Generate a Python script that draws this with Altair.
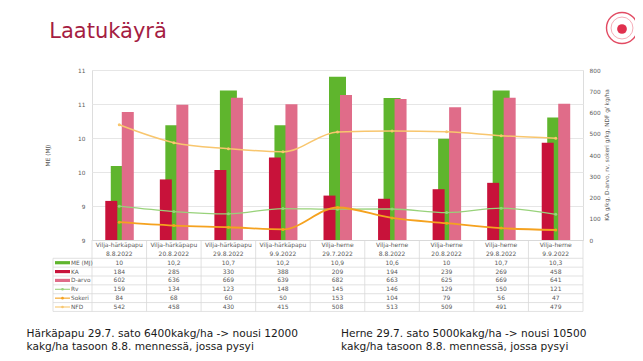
import altair as alt
import pandas as pd

# ---------------- data ----------------
keys = [f"c{i}" for i in range(9)]
crops = ["Vilja-härkäpapu"] * 4 + ["Vilja-herne"] * 5
dates = ["8.8.2022", "20.8.2022", "29.8.2022", "9.9.2022", "29.7.2022",
         "8.8.2022", "20.8.2022", "29.8.2022", "9.9.2022"]
me_bar = [9.87, 10.35, 10.76, 10.35, 10.92, 10.67, 10.19, 10.76, 10.44]
me_label = ["10", "10,2", "10,7", "10,2", "10,9", "10,6", "10", "10,7", "10,3"]
ka = [184, 285, 330, 388, 209, 194, 239, 269, 458]
darvo = [602, 636, 669, 639, 682, 663, 625, 669, 641]
rv = [159, 134, 123, 148, 145, 146, 129, 150, 121]
sokeri = [84, 68, 60, 50, 153, 104, 79, 56, 47]
ndf = [542, 458, 430, 415, 508, 513, 509, 491, 479]

series_names = ["ME (MJ)", "KA", "D-arvo", "Rv", "Sokeri", "NFD"]
series_colors = ["#5FB52D", "#C8123A", "#E06C89", "#98D27A", "#F5A21F", "#F8C66E"]
series_kind = ["bar", "bar", "bar", "line", "line", "line"]

left_ticks = [9, 9.4, 9.8, 10.2, 10.6, 11]
right_ticks = [0, 100, 200, 300, 400, 500, 600, 700, 800]

title_text = "Laatukäyrä"
note_left = "Härkäpapu 29.7. sato 6400kakg/ha -> nousi 12000\nkakg/ha tasoon 8.8. mennessä, jossa pysyi"
note_right = "Herne 29.7. sato 5000kakg/ha -> nousi 10500\nkakg/ha tasoon 8.8. mennessä, jossa pysyi"
right_title = "KA g/kg, D-arvo, rv, sokeri g/kg, NDF g/ kg/ha"

FONT = "DejaVu Sans"
GREY = "#595959"
LINEC = "#D9D9D9"

df = pd.DataFrame({"key": keys, "me": me_bar, "ka": ka, "darvo": darvo,
                   "rv": rv, "sokeri": sokeri, "ndf": ndf})

table_rows = [crops, dates, me_label, [str(v) for v in ka], [str(v) for v in darvo],
              [str(v) for v in rv], [str(v) for v in sokeri], [str(v) for v in ndf]]
trecs = []
for r, vals in enumerate(table_rows):
    for k, v in zip(keys, vals):
        trecs.append({"key": k, "row": r, "txt": v})
tdf = pd.DataFrame(trecs)

legdf = pd.DataFrame({"name": series_names, "row": list(range(2, 8)), "kind": series_kind})
bounds = pd.DataFrame({"b": [1.5 + i for i in range(7)]})
keydf = pd.DataFrame({"key": keys})

XS = alt.Scale(domain=keys, paddingInner=0, paddingOuter=0)
XAX = alt.Axis(labels=False, ticks=False, title=None, grid=False, domainColor=LINEC)


def X(**kw):
    return alt.X("key:N", scale=XS, axis=XAX, **kw)


def RYS():
    return alt.Scale(domain=[0, 800], nice=False, zero=True)


# ---------------- main plot ----------------
me_layer = alt.Chart(df).mark_bar(width=17, color=series_colors[0]).encode(
    x=X(),
    y=alt.Y("me:Q", scale=alt.Scale(domain=[9, 11], zero=False, nice=False),
            axis=alt.Axis(orient="left", values=left_ticks, format=".0f", title="ME (MJ)",
                          grid=True, gridColor="#E6E6E6", ticks=False, domain=False,
                          labelFontSize=5.8, labelColor=GREY, labelPadding=7, labelFont=FONT,
                          titleFont=FONT, titleFontSize=5.8, titleFontWeight="normal",
                          titleColor=GREY, titlePadding=27)),
    y2=alt.Y2Datum(9),
)

ka_layer = alt.Chart(df).mark_bar(width=12, xOffset=-8, color=series_colors[1]).encode(
    x=X(),
    y=alt.Y("ka:Q", scale=RYS(),
            axis=alt.Axis(orient="right", values=right_ticks, title=None, grid=False,
                          ticks=False, domain=False, labelFontSize=5.8, labelColor=GREY,
                          labelPadding=6, labelFont=FONT)),
    y2=alt.Y2Datum(0),
)
darvo_layer = alt.Chart(df).mark_bar(width=12, xOffset=8.5, color=series_colors[2]).encode(
    x=X(), y=alt.Y("darvo:Q", scale=RYS(), axis=None), y2=alt.Y2Datum(0))


def line_layer(field, color, sw):
    return alt.Chart(df).mark_line(
        interpolate="monotone", color=color, strokeWidth=sw,
        point=alt.OverlayMarkDef(filled=True, size=9, color=color)
    ).encode(x=X(), y=alt.Y(f"{field}:Q", scale=RYS(), axis=None))


lines = [line_layer("rv", series_colors[3], 1.3),
         line_layer("sokeri", series_colors[4], 1.8),
         line_layer("ndf", series_colors[5], 1.5)]

# ---------------- data table ----------------
TY = alt.Scale(domain=[0, 7], range=[175, 237], nice=False, zero=False)

cell_text = alt.Chart(tdf).mark_text(font=FONT, fontSize=6, color=GREY).encode(
    x=X(), y=alt.Y("row:Q", scale=TY, axis=None), text="txt:N")

hlines = alt.Chart(bounds).mark_rule(color=LINEC, strokeWidth=0.8).encode(
    x=alt.value(-39), x2=alt.value(491), y=alt.Y("b:Q", scale=TY, axis=None))

vlines = alt.Chart(keydf).mark_rule(color=LINEC, strokeWidth=0.8).encode(
    x=X(bandPosition=0), y=alt.value(170), y2=alt.value(241.4))
vlast = alt.Chart(keydf).transform_filter(alt.datum.key == keys[-1]).mark_rule(
    color=LINEC, strokeWidth=0.8).encode(
    x=X(bandPosition=1), y=alt.value(170), y2=alt.value(241.4))
vleft = alt.Chart(keydf).transform_filter(alt.datum.key == keys[0]).mark_rule(
    color=LINEC, strokeWidth=0.8).encode(
    x=alt.value(-39), y=alt.YDatum(1.5, scale=TY, axis=None), y2=alt.Y2Datum(7.5))

CS = alt.Scale(domain=series_names, range=series_colors)
sw_bar = alt.Chart(legdf).transform_filter(alt.datum.kind == "bar").mark_rule(strokeWidth=3.2).encode(
    x=alt.value(-37), x2=alt.value(-22), y=alt.Y("row:Q", scale=TY, axis=None),
    color=alt.Color("name:N", scale=CS, legend=None))
sw_line = alt.Chart(legdf).transform_filter(alt.datum.kind == "line").mark_rule(strokeWidth=1.1).encode(
    x=alt.value(-37), x2=alt.value(-22), y=alt.Y("row:Q", scale=TY, axis=None),
    color=alt.Color("name:N", scale=CS, legend=None))
sw_pt = alt.Chart(legdf).transform_filter(alt.datum.kind == "line").mark_point(
    filled=True, size=7, opacity=1).encode(
    x=alt.value(-29.5), y=alt.Y("row:Q", scale=TY, axis=None),
    color=alt.Color("name:N", scale=CS, legend=None))
leg_text = alt.Chart(legdf).mark_text(font=FONT, fontSize=5.8, color=GREY, align="left").encode(
    x=alt.value(-21), y=alt.Y("row:Q", scale=TY, axis=None), text="name:N")

table_group = alt.layer(hlines, vlines, vlast, vleft, cell_text, sw_bar, sw_line, sw_pt, leg_text)

# ---------------- slide decorations ----------------
one = pd.DataFrame({"a": [0]})
rtitle = alt.Chart(one).mark_text(text=right_title, font=FONT, fontSize=5.8, color=GREY,
                                  angle=270, align="center", baseline="middle").encode(
    x=alt.value(515), y=alt.value(85))
title = alt.Chart(one).mark_text(text=title_text, font=FONT, fontSize=21, color="#A51D42",
                                 align="left", baseline="alphabetic").encode(
    x=alt.value(-42.7), y=alt.value(-31.7))
note1 = alt.Chart(one).mark_text(text=note_left, lineBreak="\n", font=FONT, fontSize=10.6,
                                 color="#1A1A1A", align="left", baseline="alphabetic",
                                 lineHeight=13.3).encode(x=alt.value(-65.5), y=alt.value(266.7))
note2 = alt.Chart(one).mark_text(text=note_right, lineBreak="\n", font=FONT, fontSize=10.6,
                                 color="#1A1A1A", align="left", baseline="alphabetic",
                                 lineHeight=13.3).encode(x=alt.value(249), y=alt.value(266.7))
logo_ring = alt.Chart(one).mark_point(shape="circle", size=960, filled=False, stroke="#E24B63",
                                      fill="white", fillOpacity=1,
                                      strokeWidth=1.4, opacity=1).encode(
    x=alt.value(530), y=alt.value(-42))
logo_inner = alt.Chart(one).mark_point(shape="circle", size=480, filled=False, stroke="#F08A9A",
                                       strokeWidth=0.7, opacity=1).encode(
    x=alt.value(530), y=alt.value(-42))
logo_blob = alt.Chart(one).mark_point(shape="circle", size=95, filled=True, fill="#E0304E",
                                      strokeWidth=0, opacity=1).encode(
    x=alt.value(530), y=alt.value(-41))

chart = alt.layer(me_layer, ka_layer, darvo_layer, *lines, table_group,
                  rtitle, title, note1, note2, logo_ring, logo_inner, logo_blob).resolve_scale(
    y="independent"
).properties(
    width=491, height=170,
    autosize=alt.AutoSizeParams(type="none"),
    padding={"left": 84, "top": 62, "right": 52, "bottom": 113},
).configure_view(stroke=None).configure(background="white").configure_axis(
    labelColor=GREY, titleColor=GREY)

chart.save("out.html", embed_options={"renderer": "svg", "actions": False})
